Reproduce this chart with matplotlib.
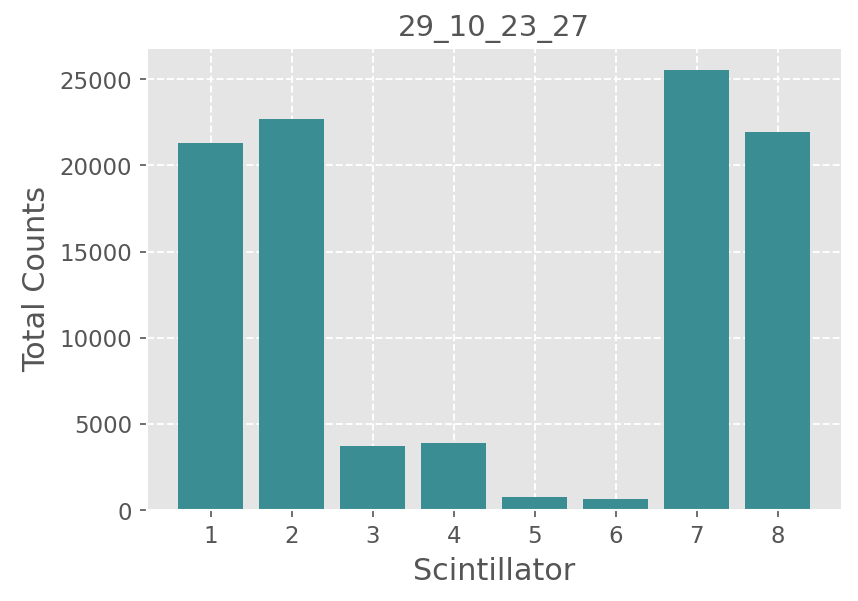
import matplotlib
matplotlib.use("Agg")
import matplotlib.pyplot as plt

scintillators = [1, 2, 3, 4, 5, 6, 7, 8]
counts = [21330, 22720, 3700, 3880, 750, 640, 25560, 21970]
title = "29_10_23_27"

plt.style.use("ggplot")

fig, ax = plt.subplots(figsize=(5.72, 4.01), dpi=150)
ax.bar(scintillators, counts, color="#3a8d93")
ax.set_xticks(scintillators)
ax.grid(True, linestyle="--", color="white", linewidth=0.9)
ax.set_axisbelow(True)
ax.set_xlabel("Scintillator", fontsize=14.5)
ax.set_ylabel("Total Counts", fontsize=14.5)
ax.set_title(title, fontsize=14, color="#555555")
ax.tick_params(labelsize=11)
fig.subplots_adjust(left=0.171, right=0.981, top=0.92, bottom=0.151)
fig.savefig("out.png", dpi=150)
